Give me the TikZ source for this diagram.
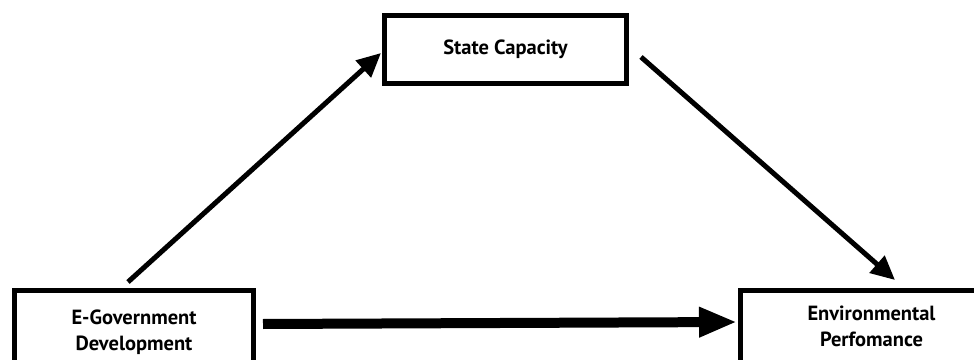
\documentclass[tikz,border=0pt]{standalone}
\usepackage{fontspec}
\setmainfont{PT Sans}
\usetikzlibrary{arrows.meta}
\begin{document}
\begin{tikzpicture}[x=1pt,y=1pt,
  boxnode/.style={draw=black, line width=4.5pt, fill=white, align=center,
    font=\bfseries\fontsize{20.5}{26}\selectfont, inner sep=0pt},
  thinarr/.style={line width=5pt, -{Triangle[length=24pt,width=22pt]}},
  thickarr/.style={line width=10pt, -{Triangle[length=38pt,width=28pt]}}]
\useasboundingbox (0,0) rectangle (974,359);
\clip (0,0) rectangle (974,359);
\node[boxnode, minimum width=242pt, minimum height=68pt] (state) at (505.5,309.5) {State Capacity};
\node[boxnode, minimum width=239pt, minimum height=84pt] (egov) at (134,26.5) {E-Government\\Development};
\node[boxnode, minimum width=262pt, minimum height=72pt] (env) at (871.5,32.5) {Environmental\\Perfomance};
\coordinate (a1) at (128,77);
\coordinate (a2) at (381,306);
\coordinate (b1) at (641,302);
\coordinate (b2) at (895,79);
\coordinate (c1) at (263,35);
\coordinate (c2) at (737,37);
\draw[thinarr] (a1) -- (a2);
\draw[thinarr] (b1) -- (b2);
\draw[thickarr] (c1) -- (c2);
\end{tikzpicture}
\end{document}
